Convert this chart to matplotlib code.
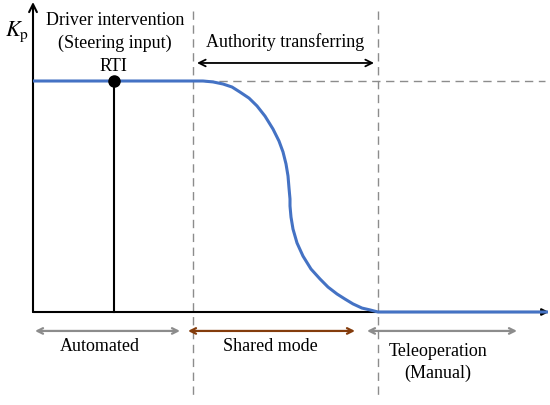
import matplotlib
matplotlib.use('Agg')
import matplotlib.pyplot as plt

plt.rcParams['font.family'] = ['Liberation Serif', 'DejaVu Serif']
plt.rcParams['mathtext.fontset'] = 'stix'

# time axis (arbitrary units) and normalised gain Kp
t_curve = [0, 170, 180, 190, 199, 207, 216, 224, 232, 240, 246, 250, 253, 255, 256, 257,
           257, 258, 260, 264, 270, 278, 287, 295, 304, 312, 320, 329, 337, 345, 515]
kp_curve = [1.0, 1.0, 0.996, 0.987, 0.974, 0.952, 0.926, 0.892, 0.848, 0.792, 0.740, 0.693,
            0.641, 0.589, 0.537, 0.489, 0.459, 0.411, 0.359, 0.299, 0.242, 0.186, 0.143,
            0.108, 0.078, 0.056, 0.035, 0.017, 0.009, 0.0, 0.0]

t_rti = 81
t_shared_start = 160
t_shared_end = 345
t_end = 515
kp_max = 1.342

BLUE = '#4472C4'
GRAY = '#8c8c8c'
BROWN = '#843C0C'

fig = plt.figure(figsize=(5.5, 4.06), dpi=100)
ax = fig.add_axes([0, 0, 1, 1])
ax.set_xlim(-33, 517)
ax.set_ylim(-93 / 231, 313 / 231)
ax.axis('off')

# axes with arrows
ax.annotate('', xy=(0, kp_max), xytext=(0, 0),
            arrowprops=dict(arrowstyle='->', color='black', lw=1.5, mutation_scale=14,
                            shrinkA=0, shrinkB=0))
ax.annotate('', xy=(t_end + 1, 0), xytext=(0, 0),
            arrowprops=dict(arrowstyle='-|>', color='black', lw=1.5, mutation_scale=10,
                            shrinkA=0, shrinkB=0))

# dashed mode boundaries
for tx in [t_shared_start, t_shared_end]:
    ax.plot([tx, tx], [1.303, -0.368], color=GRAY, lw=1.0, ls=(0, (6, 4)), zorder=1)
ax.plot([172, 512], [1.0, 1.0], color=GRAY, lw=1.0, ls=(0, (6, 4)), zorder=1)

# RTI marker
ax.plot([t_rti, t_rti], [0, 1.0], color='black', lw=1.5, zorder=2)
ax.plot([t_rti], [1.0], 'o', color='black', ms=8, zorder=4)

# Kp curve
ax.plot(t_curve, kp_curve, color=BLUE, lw=2.2, zorder=3, solid_capstyle='butt',
        solid_joinstyle='round')

fs = 13
ax.text(-16, 1.216, r'$K_\mathrm{p}$', fontsize=16, ha='center', va='center')
ax.text(82, 1.268, 'Driver intervention', fontsize=fs, ha='center', va='center')
ax.text(82, 1.169, '(Steering input)', fontsize=fs, ha='center', va='center')
ax.text(80, 1.065, 'RTI', fontsize=fs, ha='center', va='center')
ax.text(252, 1.173, 'Authority transferring', fontsize=fs, ha='center', va='center')
ax.annotate('', xy=(341, 1.078), xytext=(164, 1.078),
            arrowprops=dict(arrowstyle='<->', color='black', lw=1.3, mutation_scale=12,
                            shrinkA=0, shrinkB=0))

# bottom mode arrows
ya = -0.082
ax.annotate('', xy=(147, ya), xytext=(2, ya),
            arrowprops=dict(arrowstyle='<->', color=GRAY, lw=1.6, mutation_scale=10,
                            shrinkA=0, shrinkB=0))
ax.annotate('', xy=(322, ya), xytext=(155, ya),
            arrowprops=dict(arrowstyle='<->', color=BROWN, lw=1.6, mutation_scale=10,
                            shrinkA=0, shrinkB=0))
ax.annotate('', xy=(484, ya), xytext=(334, ya),
            arrowprops=dict(arrowstyle='<->', color=GRAY, lw=1.6, mutation_scale=10,
                            shrinkA=0, shrinkB=0))

ax.text(67, -0.143, 'Automated', fontsize=fs, ha='center', va='center')
ax.text(237, -0.147, 'Shared mode', fontsize=fs, ha='center', va='center')
ax.text(405, -0.165, 'Teleoperation', fontsize=fs, ha='center', va='center')
ax.text(405, -0.260, '(Manual)', fontsize=fs, ha='center', va='center')

fig.savefig('out.png', dpi=100)
